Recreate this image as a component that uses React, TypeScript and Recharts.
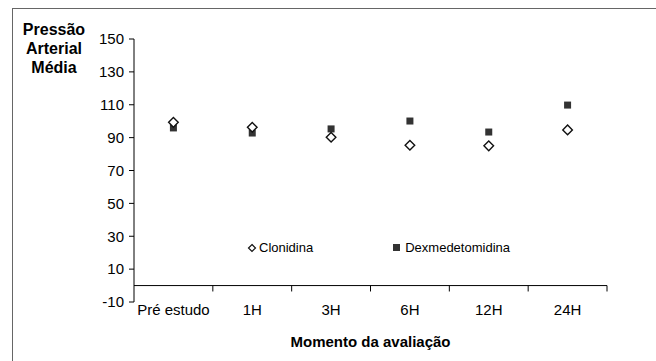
import { ScatterChart, Scatter, XAxis, YAxis, ReferenceLine, Legend } from 'recharts';

const categories = ['Pré estudo', '1H', '3H', '6H', '12H', '24H'];
const clonidina = [99.3, 96.3, 90.2, 85.4, 85, 94.7];
const dexmedetomidina = [95.9, 92.8, 95.3, 100.1, 93.4, 109.8];
const yTicks = [-10, 10, 30, 50, 70, 90, 110, 130, 150];

const FONT = '"Liberation Sans", Arial, sans-serif';

// categories sit in the middle of their slot, slot borders at whole numbers
const clonData = clonidina.map((v, i) => ({ x: i + 0.5, y: v }));
const dexData = dexmedetomidina.map((v, i) => ({ x: i + 0.5, y: v }));
const centerTicks = categories.map((_, i) => i + 0.5);
const borders = categories.map((_, i) => i + 1);

function Diamond({ cx, cy }: { cx?: number; cy?: number }) {
  if (cx == null || cy == null) return null;
  const r = 4.8;
  return (
    <path
      d={`M${cx},${cy - r}L${cx + r},${cy}L${cx},${cy + r}L${cx - r},${cy}Z`}
      fill="#fff"
      stroke="#111"
      strokeWidth={1.4}
    />
  );
}

function Square({ cx, cy }: { cx?: number; cy?: number }) {
  if (cx == null || cy == null) return null;
  const s = 7;
  return <rect x={cx - s / 2} y={cy - s / 2} width={s} height={s} fill="#333" />;
}

function LegendBox() {
  return (
    <div style={{ display: 'flex', alignItems: 'center', fontFamily: FONT, fontSize: 13, color: '#000' }}>
      <svg width={10} height={10} style={{ marginRight: 2 }}>
        <path d="M5,1.5L8.5,5L5,8.5L1.5,5Z" fill="#fff" stroke="#111" strokeWidth={1.2} />
      </svg>
      <span>Clonidina</span>
      <svg width={10} height={10} style={{ marginLeft: 79, marginRight: 3 }}>
        <rect x={1} y={1} width={7} height={7} fill="#333" />
      </svg>
      <span>Dexmedetomidina</span>
    </div>
  );
}

export default function App() {
  return (
    <div style={{ position: 'absolute', left: 0, top: 0, width: 656, height: 361, overflow: 'hidden', background: '#fff' }}>
      <div
        style={{
          position: 'absolute',
          left: 12,
          top: 8,
          width: 700,
          height: 400,
          borderLeft: '1.5px solid #666',
          borderTop: '1.5px solid #666'
        }}
      />
      <div
        style={{
          position: 'absolute',
          left: 8,
          top: 20,
          width: 92,
          textAlign: 'center',
          fontFamily: FONT,
          fontWeight: 'bold',
          fontSize: 16,
          lineHeight: '19px',
          color: '#000'
        }}
      >
        Pressão
        <br />
        Arterial
        <br />
        Média
      </div>
      <div
        style={{
          position: 'absolute',
          left: 134,
          top: 333,
          width: 473,
          textAlign: 'center',
          fontFamily: FONT,
          fontWeight: 'bold',
          fontSize: 15,
          color: '#000'
        }}
      >
        Momento da avaliação
      </div>
      <ScatterChart width={656} height={361} margin={{ top: 39, right: 49, bottom: 29, left: 84 }} style={{ position: 'absolute', left: 0, top: 0 }}>
        <XAxis
          type="number"
          dataKey="x"
          domain={[0, 6]}
          ticks={centerTicks}
          interval={0}
          tickFormatter={(v: number) => categories[Math.round(v - 0.5)] ?? ''}
          axisLine={false}
          tickLine={false}
          tickSize={0}
          tickMargin={2}
          height={30}
          tick={{ fill: '#000', fontSize: 15, fontFamily: FONT }}
        />
        <YAxis
          type="number"
          dataKey="y"
          domain={[-10, 150]}
          ticks={yTicks}
          interval={0}
          width={50}
          axisLine={{ stroke: '#000', strokeWidth: 1 }}
          tickLine={{ stroke: '#000' }}
          tickSize={5}
          tickMargin={5}
          tick={{ fill: '#000', fontSize: 15, fontFamily: FONT }}
        />
        <ReferenceLine y={0} stroke="#000" strokeWidth={1} />
        {borders.map((b) => (
          <ReferenceLine
            key={`b-${b}`}
            segment={[
              { x: b, y: 0 },
              { x: b, y: -3.6 }
            ]}
            stroke="#000"
            strokeWidth={1}
          />
        ))}
        <Scatter name="Dexmedetomidina" data={dexData} shape={<Square />} isAnimationActive={false} />
        <Scatter name="Clonidina" data={clonData} shape={<Diamond />} isAnimationActive={false} />
        <Legend
          layout="horizontal"
          align="center"
          verticalAlign="middle"
          content={<LegendBox />}
          wrapperStyle={{ position: 'absolute', left: 247, top: 240, width: 300, height: 18 }}
        />
      </ScatterChart>
    </div>
  );
}
